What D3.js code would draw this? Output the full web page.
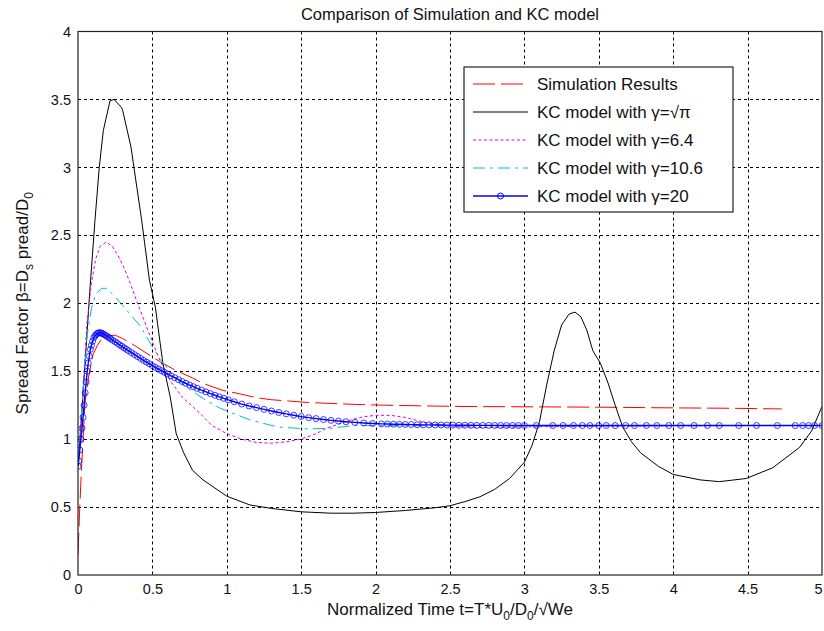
<!DOCTYPE html>
<html lang="en">
    <head>
        <meta charset="utf-8">
        <title>Comparison of Simulation and KC model</title>
        <script type="text/javascript" src="https://d3js.org/d3.v7.min.js"></script>
        <style type="text/css">
            body { margin: 0; background: #fff; }
            text { font-family: "Liberation Sans", Arial, sans-serif; fill: #111; }
        </style>
    </head>
    <body>
        <script type="text/javascript">

            // Ticks
            var xTicks = [0, 0.5, 1, 1.5, 2, 2.5, 3, 3.5, 4, 4.5, 5];
            var yTicks = [0, 0.5, 1, 1.5, 2, 2.5, 3, 3.5, 4];

            // Simulation results (red dashed)
            var simT = [0, 0.01, 0.02, 0.035, 0.047, 0.07, 0.1, 0.13, 0.16, 0.2, 0.25, 0.3, 0.35, 0.45, 0.55, 0.65, 0.77,
                        0.84, 0.97, 1.1, 1.2, 1.3, 1.42, 1.54, 1.65, 1.87, 2.05, 2.3, 2.6, 3.0, 3.5, 4.0, 4.4, 4.73];
            var simY = [0.15, 0.45, 0.7, 1.02, 1.27, 1.45, 1.62, 1.69, 1.74, 1.76, 1.765, 1.74, 1.71, 1.64, 1.57, 1.51, 1.45,
                        1.41, 1.36, 1.33, 1.305, 1.29, 1.28, 1.27, 1.265, 1.255, 1.25, 1.245, 1.24, 1.238, 1.235, 1.23, 1.227, 1.222];

            // KC model, gamma = sqrt(pi) (black)
            var kc1T = [0, 0.02, 0.05, 0.08, 0.114, 0.143, 0.17, 0.215, 0.242, 0.293, 0.3, 0.356, 0.376, 0.428, 0.48, 0.52,
                        0.57, 0.62, 0.66, 0.71, 0.77, 0.84, 1.0, 1.156, 1.3, 1.5, 1.7, 1.85, 2.0, 2.2, 2.4, 2.5, 2.6, 2.7,
                        2.8, 2.9, 3.0, 3.05, 3.1, 3.15, 3.2, 3.25, 3.3, 3.34, 3.38, 3.42, 3.46, 3.51, 3.56, 3.61, 3.66,
                        3.72, 3.78, 3.9, 4.0, 4.18, 4.31, 4.49, 4.67, 4.85, 4.93, 5.0];
            var kc1Y = [0.8, 1.1, 1.6, 2.1, 2.61, 3.0, 3.27, 3.49, 3.5, 3.44, 3.42, 3.15, 3.0, 2.61, 2.17, 1.97,
                        1.56, 1.31, 1.04, 0.9, 0.77, 0.7, 0.58, 0.515, 0.49, 0.465, 0.455, 0.455, 0.46, 0.475, 0.495, 0.51, 0.54, 0.575,
                        0.63, 0.71, 0.83, 0.95, 1.12, 1.4, 1.65, 1.84, 1.92, 1.935, 1.9, 1.8, 1.65, 1.56, 1.42, 1.25, 1.09,
                        0.98, 0.9, 0.8, 0.74, 0.7, 0.687, 0.71, 0.79, 0.94, 1.06, 1.24];

            // KC model, gamma = 6.4 (magenta dotted)
            var kc2T = [0, 0.03, 0.06, 0.09, 0.12, 0.15, 0.19, 0.23, 0.27, 0.31, 0.35, 0.4, 0.47, 0.55, 0.62, 0.7, 0.82,
                        0.9, 1.0, 1.1, 1.2, 1.3, 1.4, 1.5, 1.6, 1.67, 1.75, 1.83, 1.92, 2.0, 2.1, 2.2, 2.34, 2.5, 2.72,
                        3.0, 3.5, 4.0, 4.5, 5.0];
            var kc2Y = [0.8, 1.3, 1.85, 2.15, 2.33, 2.42, 2.45, 2.42, 2.35, 2.26, 2.15, 2.0, 1.8, 1.58, 1.43, 1.31, 1.19,
                        1.1, 1.04, 1.0, 0.975, 0.97, 0.98, 1.0, 1.04, 1.08, 1.11, 1.14, 1.165, 1.175, 1.175, 1.16, 1.12, 1.095, 1.085,
                        1.09, 1.095, 1.098, 1.1, 1.1];

            // KC model, gamma = 10.6 (cyan dash-dot)
            var kc3T = [0, 0.03, 0.06, 0.09, 0.12, 0.16, 0.19, 0.23, 0.28, 0.35, 0.42, 0.5, 0.55, 0.64, 0.73, 0.84, 0.95,
                        1.04, 1.16, 1.34, 1.54, 1.7, 1.85, 2.0, 2.5, 3.0, 3.5, 4.0, 4.5, 5.0];
            var kc3Y = [0.8, 1.3, 1.75, 1.96, 2.07, 2.11, 2.11, 2.07, 2.01, 1.92, 1.83, 1.68, 1.59, 1.47, 1.38, 1.3, 1.23,
                        1.19, 1.14, 1.09, 1.075, 1.08, 1.1, 1.1, 1.098, 1.097, 1.098, 1.099, 1.1, 1.1];

            // KC model, gamma = 20 (blue, circle markers at every solver step)
            var kc4T = [0, 0.005, 0.012, 0.02, 0.027, 0.034, 0.041, 0.048, 0.055, 0.062, 0.069, 0.076, 0.083, 0.09, 0.098,
                        0.106, 0.114, 0.122, 0.13, 0.138, 0.146, 0.154, 0.162, 0.17, 0.18, 0.19, 0.2, 0.21, 0.22, 0.235,
                        0.25, 0.265, 0.28, 0.295, 0.31, 0.325, 0.34, 0.36, 0.38, 0.4, 0.42, 0.44, 0.46, 0.48, 0.5, 0.52,
                        0.54, 0.56, 0.58, 0.6, 0.625, 0.65, 0.675, 0.7, 0.725, 0.75, 0.775, 0.8, 0.83, 0.86, 0.89, 0.92,
                        0.95, 0.98, 1.01, 1.05, 1.1, 1.15, 1.2, 1.25, 1.3, 1.35, 1.4, 1.45, 1.5, 1.55, 1.6, 1.65, 1.7,
                        1.75, 1.8, 1.86, 1.92, 1.98, 2.04, 2.08, 2.12, 2.16, 2.2, 2.24, 2.28, 2.32, 2.36, 2.4, 2.44, 2.48,
                        2.52, 2.56, 2.6, 2.64, 2.68, 2.72, 2.76, 2.8, 2.84, 2.88, 2.92, 2.96, 3.0, 3.08, 3.19, 3.26, 3.33,
                        3.39, 3.44, 3.5, 3.55, 3.61, 3.68, 3.74, 3.82, 3.89, 3.97, 4.05, 4.14, 4.23, 4.31, 4.44, 4.56,
                        4.7, 4.82, 4.87, 4.91, 4.95, 5.0];
            var kc4Y = [0.8, 0.84, 0.92, 1.0, 1.08, 1.16, 1.25, 1.34, 1.42, 1.5, 1.56, 1.61, 1.66, 1.69, 1.72,
                        1.745, 1.76, 1.77, 1.778, 1.782, 1.783, 1.782, 1.778, 1.773, 1.767, 1.76, 1.753, 1.746, 1.738, 1.727,
                        1.716, 1.705, 1.694, 1.683, 1.672, 1.661, 1.65, 1.636, 1.622, 1.608, 1.594, 1.58, 1.567, 1.554, 1.541, 1.528,
                        1.516, 1.504, 1.492, 1.48, 1.466, 1.452, 1.438, 1.424, 1.411, 1.398, 1.386, 1.374, 1.361, 1.348, 1.335, 1.323,
                        1.311, 1.3, 1.289, 1.275, 1.258, 1.244, 1.232, 1.219, 1.207, 1.196, 1.186, 1.176, 1.166, 1.158, 1.151, 1.144, 1.138,
                        1.133, 1.128, 1.123, 1.119, 1.115, 1.112, 1.111, 1.11, 1.109, 1.108, 1.107, 1.106, 1.105, 1.105, 1.104, 1.104, 1.103,
                        1.103, 1.102, 1.102, 1.102, 1.101, 1.101, 1.101, 1.101, 1.1, 1.1, 1.1, 1.1, 1.1, 1.1, 1.1, 1.1, 1.1,
                        1.1, 1.1, 1.1, 1.1, 1.1, 1.1, 1.1, 1.1, 1.1, 1.1, 1.1, 1.1, 1.1, 1.1, 1.1, 1.1,
                        1.1, 1.1, 1.1, 1.1, 1.1, 1.1];

            var legendLabels = ["Simulation Results", "KC model with \u03b3=\u221a\u03c0", "KC model with \u03b3=6.4",
                                "KC model with \u03b3=10.6", "KC model with \u03b3=20"];

            // Pairs (t, beta)
            function zip(ts, ys) {
                return ts.map(function(t, i) { return [t, ys[i]]; });
            }

            var series = [
                { data: zip(simT, simY), color: "#ff0000", dash: "22,6", width: 1 },
                { data: zip(kc1T, kc1Y), color: "#000000", dash: null, width: 1 },
                { data: zip(kc2T, kc2Y), color: "#e000e0", dash: "3,2.5", width: 1 },
                { data: zip(kc3T, kc3Y), color: "#00bfbf", dash: "12,5,3,5", width: 1 },
                { data: zip(kc4T, kc4Y), color: "#0000ff", dash: null, width: 1.4, marker: true }
            ];

            // Size (note: "top" is reserved by window, so prefix everything)
            var w = 824;
            var h = 631;
            var pLeft = 78, pRight = 822, pTop = 31.5, pBottom = 575;

            var svg = d3.select("body")
                        .append("svg")
                        .attr("width", w)
                        .attr("height", h);

            var xScale = d3.scaleLinear().domain([0, 5]).range([pLeft, pRight]);
            var yScale = d3.scaleLinear().domain([0, 4]).range([pBottom, pTop]);

            // Grid (dotted, MATLAB style)
            svg.append("g")
                .selectAll("line")
                .data(xTicks.slice(1, -1))
                .enter()
                .append("line")
                .attr("x1", function(d) { return Math.round(xScale(d)) + 0.5; })
                .attr("x2", function(d) { return Math.round(xScale(d)) + 0.5; })
                .attr("y1", pTop)
                .attr("y2", pBottom)
                .attr("stroke", "#000")
                .attr("stroke-dasharray", "3,3");

            svg.append("g")
                .selectAll("line")
                .data(yTicks.slice(1, -1))
                .enter()
                .append("line")
                .attr("y1", function(d) { return Math.round(yScale(d)) + 0.5; })
                .attr("y2", function(d) { return Math.round(yScale(d)) + 0.5; })
                .attr("x1", pLeft)
                .attr("x2", pRight)
                .attr("stroke", "#000")
                .attr("stroke-dasharray", "3,3");

            // Clip
            svg.append("clipPath")
                .attr("id", "plotclip")
                .append("rect")
                .attr("x", pLeft)
                .attr("y", pTop)
                .attr("width", pRight - pLeft)
                .attr("height", pBottom - pTop);

            var line = d3.line()
                        .x(function(d) { return xScale(d[0]); })
                        .y(function(d) { return yScale(d[1]); });

            var plot = svg.append("g").attr("clip-path", "url(#plotclip)");

            series.forEach(function(s) {
                plot.append("path")
                    .datum(s.data)
                    .attr("d", line)
                    .attr("fill", "none")
                    .attr("stroke", s.color)
                    .attr("stroke-width", s.width)
                    .attr("stroke-dasharray", s.dash);
                if (s.marker) {
                    plot.selectAll("circle.m")
                        .data(s.data)
                        .enter()
                        .append("circle")
                        .attr("class", "m")
                        .attr("cx", function(d) { return xScale(d[0]); })
                        .attr("cy", function(d) { return yScale(d[1]); })
                        .attr("r", 3)
                        .attr("fill", "none")
                        .attr("stroke", s.color)
                        .attr("stroke-opacity", 0.75)
                        .attr("stroke-width", 1);
                }
            });

            // Axes box
            svg.append("rect")
                .attr("x", pLeft)
                .attr("y", pTop)
                .attr("width", pRight - pLeft)
                .attr("height", pBottom - pTop)
                .attr("fill", "none")
                .attr("stroke", "#222")
                .attr("stroke-width", 1.2);

            // Tick labels
            var xAxis = d3.axisBottom(xScale).tickValues(xTicks).tickSize(0).tickPadding(9)
                            .tickFormat(function(d) { return d; });
            var yAxis = d3.axisLeft(yScale).tickValues(yTicks).tickSize(0).tickPadding(7)
                            .tickFormat(function(d) { return d; });

            var gx = svg.append("g")
                .attr("transform", "translate(0," + pBottom + ")")
                .call(xAxis);
            var gy = svg.append("g")
                .attr("transform", "translate(" + pLeft + ",0)")
                .call(yAxis);
            [gx, gy].forEach(function(g) {
                g.select(".domain").remove();
                g.selectAll("text")
                    .attr("font-family", "Liberation Sans, Arial, sans-serif")
                    .attr("font-size", 14.5)
                    .attr("fill", "#111");
            });
            // last x label sits on the edge, keep it inside the picture
            gx.selectAll(".tick text").filter(function(d) { return d === 5; })
                .attr("text-anchor", "end")
                .attr("dx", 0);

            // Title
            svg.append("text")
                .attr("x", (pLeft + pRight) / 2)
                .attr("y", 20)
                .attr("text-anchor", "middle")
                .attr("font-size", 16.5)
                .text("Comparison of Simulation and KC model");

            // X label
            var xl = svg.append("text")
                .attr("x", (pLeft + pRight) / 2)
                .attr("y", 615)
                .attr("text-anchor", "middle")
                .attr("font-size", 17);
            xl.append("tspan").text("Normalized Time t=T*U");
            xl.append("tspan").attr("dy", 5).attr("font-size", 12).text("0");
            xl.append("tspan").attr("dy", -5).text("/D");
            xl.append("tspan").attr("dy", 5).attr("font-size", 12).text("0");
            xl.append("tspan").attr("dy", -5).text("/\u221aWe");

            // Y label
            var yl = svg.append("text")
                .attr("transform", "translate(28," + ((pTop + pBottom) / 2) + ") rotate(-90)")
                .attr("text-anchor", "middle")
                .attr("font-size", 17);
            yl.append("tspan").text("Spread Factor \u03b2=D");
            yl.append("tspan").attr("dy", 5).attr("font-size", 12).text("s");
            yl.append("tspan").attr("dy", -5).text(" pread/D");
            yl.append("tspan").attr("dy", 5).attr("font-size", 12).text("0");

            // Legend
            var lx = 464, ly = 67, lw = 269, lh = 145;
            var legend = svg.append("g");
            legend.append("rect")
                .attr("x", lx)
                .attr("y", ly)
                .attr("width", lw)
                .attr("height", lh)
                .attr("fill", "#fff")
                .attr("stroke", "#222")
                .attr("stroke-width", 1.2);

            series.forEach(function(s, i) {
                var yy = ly + 17 + i * 28;
                legend.append("line")
                    .attr("x1", lx + 9)
                    .attr("x2", lx + 64)
                    .attr("y1", yy)
                    .attr("y2", yy)
                    .attr("stroke", s.color)
                    .attr("stroke-width", s.width)
                    .attr("stroke-dasharray", s.dash);
                if (s.marker) {
                    legend.append("circle")
                        .attr("cx", lx + 36.5)
                        .attr("cy", yy)
                        .attr("r", 3)
                        .attr("fill", "none")
                        .attr("stroke", s.color);
                }
                legend.append("text")
                    .attr("x", lx + 73)
                    .attr("y", yy + 6)
                    .attr("font-size", 17)
                    .text(legendLabels[i]);
            });
        </script>
    </body>
</html>
